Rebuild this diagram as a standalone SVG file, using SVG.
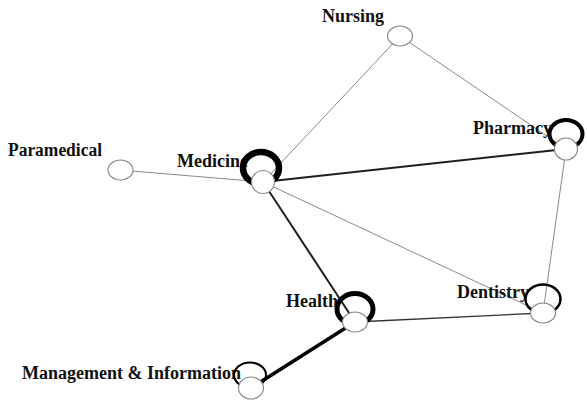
<svg xmlns="http://www.w3.org/2000/svg" width="587" height="405" viewBox="0 0 587 405">
<style>
.lbl{font-family:"Liberation Serif","Times New Roman",serif;font-weight:bold;font-size:18px;fill:#111}
.dot{fill:#fff;stroke:#8a8a8a;stroke-width:1.2}
.ring{fill:none;stroke:#000}
.thin{stroke:#8a8a8a;stroke-width:1}
</style>
<rect width="587" height="405" fill="#fff"/>
<g id="edges">
<line class="thin" x1="400" y1="36" x2="263" y2="182"/>
<line class="thin" x1="400" y1="36" x2="566" y2="149"/>
<line class="thin" x1="120" y1="170" x2="263" y2="182"/>
<line class="thin" x1="263" y1="182" x2="543" y2="313"/>
<line class="thin" x1="566" y1="149" x2="543" y2="313"/>
<line x1="263" y1="182" x2="566" y2="149" stroke="#1e1e1e" stroke-width="2"/>
<line x1="263" y1="182" x2="355" y2="322" stroke="#1e1e1e" stroke-width="2"/>
<line x1="355" y1="322" x2="543" y2="313" stroke="#333" stroke-width="1.3"/>
<line x1="355" y1="322" x2="251" y2="388" stroke="#000" stroke-width="3.5"/>
</g>
<g id="nursing">
<text class="lbl" x="322" y="22">Nursing</text>
<ellipse class="dot" cx="400" cy="36" rx="12.5" ry="10"/>
</g>
<g id="paramedical">
<text class="lbl" x="8" y="156" textLength="94" lengthAdjust="spacingAndGlyphs">Paramedical</text>
<ellipse class="dot" cx="120.5" cy="170" rx="12.5" ry="10"/>
</g>
<g id="medicine">
<text class="lbl" x="177" y="167">Medicine</text>
<ellipse class="ring" cx="261" cy="168" rx="18" ry="16" stroke-width="6.5"/>
<ellipse class="dot" cx="263" cy="182" rx="11.5" ry="11.5"/>
</g>
<g id="pharmacy">
<text class="lbl" x="473" y="134">Pharmacy</text>
<ellipse class="ring" cx="566" cy="134" rx="16.5" ry="14" stroke-width="4"/>
<ellipse class="dot" cx="566" cy="149" rx="11.5" ry="11"/>
</g>
<g id="dentistry">
<text class="lbl" x="457" y="298">Dentistry</text>
<ellipse class="ring" cx="543" cy="299" rx="17.5" ry="14.5" stroke-width="2.5"/>
<ellipse class="dot" cx="543" cy="313" rx="12.5" ry="10"/>
</g>
<g id="health">
<text class="lbl" x="286" y="307">Health</text>
<ellipse class="ring" cx="355" cy="309" rx="18" ry="15.5" stroke-width="5"/>
<ellipse class="dot" cx="355" cy="322" rx="12.5" ry="10"/>
</g>
<g id="management">
<text class="lbl" x="22" y="379">Management &amp; Information</text>
<ellipse class="ring" cx="250" cy="375" rx="16" ry="12.5" stroke-width="2"/>
<ellipse class="dot" cx="251" cy="388" rx="12.5" ry="11"/>
</g>
</svg>
